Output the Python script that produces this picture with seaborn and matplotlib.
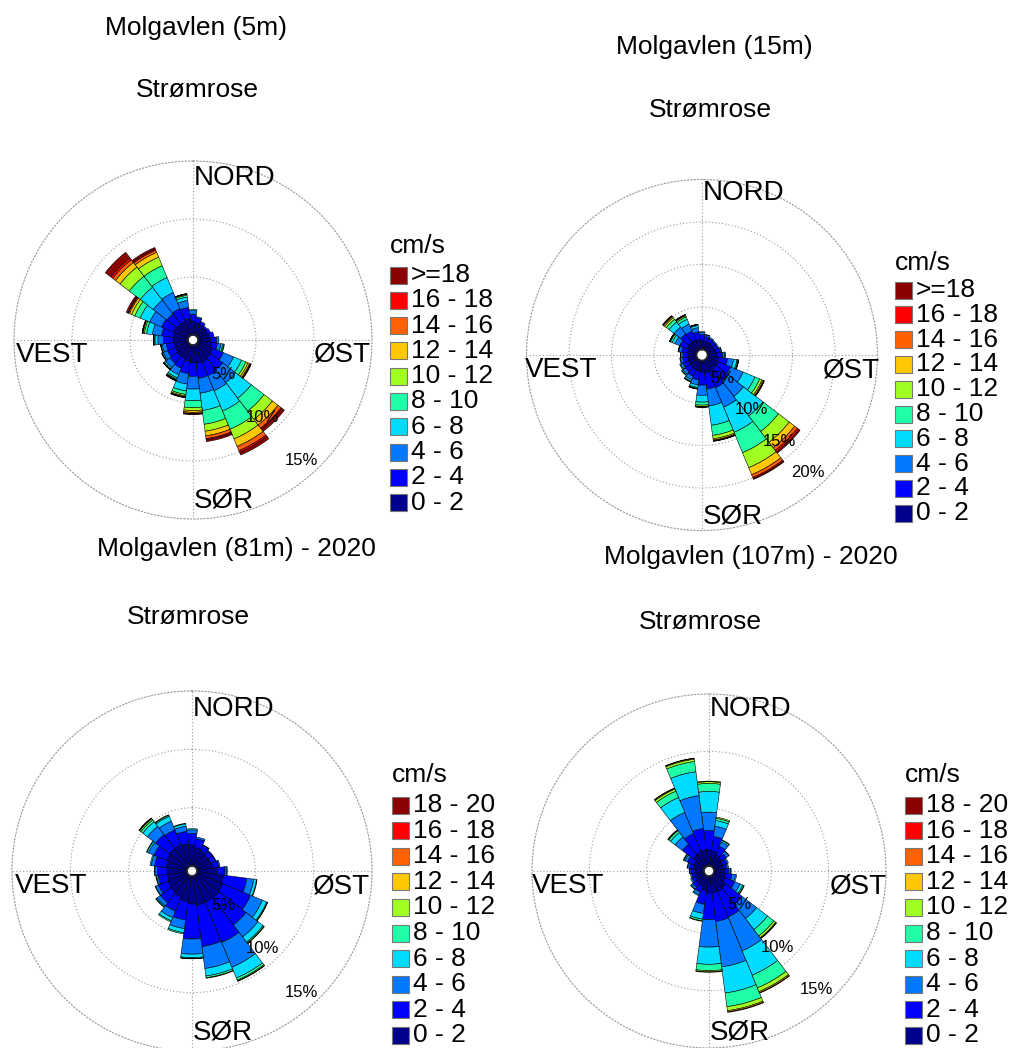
import numpy as np
import matplotlib
matplotlib.use("Agg")
import matplotlib.pyplot as plt
from matplotlib.patches import Rectangle
import seaborn as sns

sns.set_theme(style="white")
plt.rcParams["font.family"] = ["Liberation Sans", "DejaVu Sans"]
plt.rcParams["text.color"] = "black"

# ---------------- data ----------------
directions = [0, 15, 30, 45, 60, 75, 90, 105, 120, 135, 150, 165,
              180, 195, 210, 225, 240, 255, 270, 285, 300, 315, 330, 345]

labels_top = ["0 - 2", "2 - 4", "4 - 6", "6 - 8", "8 - 10", "10 - 12",
              "12 - 14", "14 - 16", "16 - 18", ">=18"]
labels_bottom = ["0 - 2", "2 - 4", "4 - 6", "6 - 8", "8 - 10", "10 - 12",
                 "12 - 14", "14 - 16", "16 - 18", "18 - 20"]

titles = ["Molgavlen (5m)", "Molgavlen (15m)",
          "Molgavlen (81m) - 2020", "Molgavlen (107m) - 2020"]
subtitle = "Strømrose"
compass = ["NORD", "ØST", "SØR", "VEST"]

# percentage of time per direction (rows) and speed class (columns, cm/s)
rose_5m = [
    [1.2, 0.6, 0.3, 0.1, 0, 0, 0, 0, 0, 0],
    [1.1, 0.4, 0.1, 0, 0, 0, 0, 0, 0, 0],
    [1.0, 0.3, 0, 0, 0, 0, 0, 0, 0, 0],
    [0.9, 0.2, 0, 0, 0, 0, 0, 0, 0, 0],
    [0.9, 0.3, 0, 0, 0, 0, 0, 0, 0, 0],
    [1.0, 0.4, 0, 0, 0, 0, 0, 0, 0, 0],
    [1.1, 0.5, 0.2, 0, 0, 0, 0, 0, 0, 0],
    [1.2, 0.5, 0.3, 0.15, 0.1, 0.05, 0, 0, 0, 0],
    [1.4, 1.0, 0.95, 0.75, 0.4, 0.2, 0.15, 0.08, 0.03, 0.04],
    [1.5, 1.3, 1.4, 1.7, 1.4, 0.9, 0.6, 0.35, 0.1, 0.25],
    [1.6, 1.3, 1.4, 1.9, 1.7, 0.9, 0.7, 0.4, 0.15, 0.25],
    [1.6, 1.3, 1.3, 1.5, 1.2, 0.6, 0.4, 0.25, 0.1, 0.15],
    [1.5, 1.2, 1.1, 1.0, 0.6, 0.25, 0.15, 0.1, 0.05, 0.05],
    [1.4, 1.1, 0.9, 0.6, 0.3, 0.12, 0.08, 0.04, 0.02, 0.04],
    [1.3, 0.9, 0.6, 0.3, 0.12, 0.06, 0.04, 0.03, 0.02, 0.03],
    [1.3, 0.8, 0.45, 0.15, 0.05, 0.03, 0.01, 0.01, 0, 0],
    [1.2, 0.75, 0.4, 0.1, 0.03, 0.02, 0, 0, 0, 0],
    [1.2, 0.7, 0.35, 0.1, 0.03, 0.02, 0, 0, 0, 0],
    [1.3, 0.8, 0.5, 0.25, 0.08, 0.04, 0.02, 0.01, 0, 0],
    [1.3, 1.0, 0.8, 0.5, 0.2, 0.1, 0.05, 0.02, 0.01, 0.02],
    [1.4, 1.1, 1.1, 0.9, 0.5, 0.3, 0.2, 0.1, 0.05, 0.15],
    [1.3, 1.1, 1.5, 1.4, 1.2, 1.0, 0.5, 0.3, 0.2, 0.6],
    [1.3, 1.2, 1.5, 1.4, 1.1, 0.8, 0.45, 0.2, 0.1, 0.15],
    [1.4, 1.0, 0.6, 0.3, 0.15, 0.08, 0.04, 0.02, 0.01, 0],
]

rose_15m = [
    [1.1, 0.65, 0.25, 0.1, 0, 0, 0, 0, 0, 0],
    [1.0, 0.55, 0.2, 0.05, 0, 0, 0, 0, 0, 0],
    [1.0, 0.45, 0.15, 0, 0, 0, 0, 0, 0, 0],
    [0.9, 0.45, 0.15, 0, 0, 0, 0, 0, 0, 0],
    [0.9, 0.45, 0.15, 0, 0, 0, 0, 0, 0, 0],
    [1.0, 0.5, 0.15, 0.05, 0, 0, 0, 0, 0, 0],
    [1.1, 0.7, 0.25, 0.05, 0, 0, 0, 0, 0, 0],
    [1.3, 1.1, 0.7, 0.4, 0.12, 0.05, 0.02, 0.01, 0, 0],
    [1.4, 1.6, 1.6, 1.5, 0.6, 0.3, 0.15, 0.08, 0.03, 0.04],
    [1.4, 1.8, 2.3, 2.9, 2.3, 1.6, 0.8, 0.4, 0.25, 0.15],
    [1.5, 2.0, 2.5, 3.2, 2.6, 1.9, 0.9, 0.35, 0.15, 0.1],
    [1.5, 1.9, 2.0, 2.3, 1.2, 0.4, 0.15, 0.08, 0.04, 0.03],
    [1.4, 1.5, 1.2, 0.8, 0.35, 0.15, 0.05, 0.03, 0.01, 0.01],
    [1.3, 1.0, 0.6, 0.3, 0.12, 0.05, 0.02, 0.01, 0, 0],
    [1.2, 0.85, 0.45, 0.2, 0.07, 0.03, 0, 0, 0, 0],
    [1.1, 0.75, 0.35, 0.15, 0.05, 0, 0, 0, 0, 0],
    [1.1, 0.7, 0.3, 0.1, 0, 0, 0, 0, 0, 0],
    [1.0, 0.65, 0.28, 0.07, 0, 0, 0, 0, 0, 0],
    [1.0, 0.6, 0.25, 0.05, 0, 0, 0, 0, 0, 0],
    [1.1, 0.7, 0.3, 0.08, 0.02, 0, 0, 0, 0, 0],
    [1.2, 1.0, 0.6, 0.35, 0.2, 0.1, 0.03, 0.01, 0.01, 0],
    [1.3, 1.2, 1.0, 0.75, 0.4, 0.25, 0.15, 0.08, 0.04, 0.03],
    [1.3, 1.1, 0.9, 0.6, 0.3, 0.15, 0.08, 0.04, 0.02, 0.01],
    [1.2, 0.9, 0.5, 0.25, 0.1, 0.03, 0.01, 0.01, 0, 0],
]

rose_81m = [
    [1.8, 1.0, 0.3, 0.1, 0, 0, 0, 0, 0, 0],
    [1.6, 0.75, 0.15, 0, 0, 0, 0, 0, 0, 0],
    [1.4, 0.55, 0.05, 0, 0, 0, 0, 0, 0, 0],
    [1.3, 0.45, 0.05, 0, 0, 0, 0, 0, 0, 0],
    [1.3, 0.45, 0.05, 0, 0, 0, 0, 0, 0, 0],
    [1.4, 0.5, 0.1, 0, 0, 0, 0, 0, 0, 0],
    [1.7, 0.7, 0.15, 0.05, 0, 0, 0, 0, 0, 0],
    [2.3, 2.0, 0.6, 0.25, 0.05, 0, 0, 0, 0, 0],
    [2.4, 2.6, 1.1, 0.4, 0.07, 0.03, 0, 0, 0, 0],
    [2.5, 2.9, 1.3, 0.55, 0.1, 0.05, 0, 0, 0, 0],
    [2.5, 3.7, 2.3, 1.0, 0.2, 0.08, 0.02, 0, 0, 0],
    [2.5, 3.6, 1.9, 0.65, 0.15, 0.05, 0, 0, 0, 0],
    [2.4, 3.0, 1.3, 0.3, 0.07, 0.03, 0, 0, 0, 0],
    [2.2, 1.6, 0.75, 0.35, 0.1, 0, 0, 0, 0, 0],
    [2.0, 1.3, 0.6, 0.3, 0.1, 0, 0, 0, 0, 0],
    [1.9, 1.1, 0.35, 0.1, 0.05, 0, 0, 0, 0, 0],
    [1.8, 0.9, 0.25, 0.05, 0, 0, 0, 0, 0, 0],
    [1.7, 0.8, 0.15, 0.05, 0, 0, 0, 0, 0, 0],
    [1.7, 0.85, 0.2, 0.05, 0, 0, 0, 0, 0, 0],
    [1.8, 1.0, 0.3, 0.1, 0, 0, 0, 0, 0, 0],
    [1.9, 1.2, 0.5, 0.15, 0.05, 0, 0, 0, 0, 0],
    [2.0, 1.5, 0.9, 0.5, 0.2, 0.12, 0.05, 0.02, 0.01, 0],
    [2.0, 1.4, 0.8, 0.45, 0.1, 0.05, 0, 0, 0, 0],
    [1.9, 1.1, 0.45, 0.2, 0.05, 0, 0, 0, 0, 0],
]

rose_107m = [
    [1.4, 1.7, 1.6, 1.8, 0.7, 0.15, 0.05, 0, 0, 0],
    [1.3, 1.3, 0.9, 0.5, 0.2, 0.1, 0, 0, 0, 0],
    [1.1, 0.8, 0.4, 0.15, 0.05, 0, 0, 0, 0, 0],
    [1.0, 0.5, 0.25, 0.05, 0, 0, 0, 0, 0, 0],
    [0.85, 0.4, 0.15, 0, 0, 0, 0, 0, 0, 0],
    [0.8, 0.35, 0.15, 0, 0, 0, 0, 0, 0, 0],
    [0.9, 0.4, 0.15, 0.05, 0, 0, 0, 0, 0, 0],
    [1.0, 0.6, 0.3, 0.1, 0, 0, 0, 0, 0, 0],
    [1.1, 0.9, 0.5, 0.25, 0.1, 0.05, 0, 0, 0, 0],
    [1.4, 1.8, 1.6, 1.2, 0.7, 0.2, 0.05, 0.05, 0, 0],
    [1.5, 2.4, 3.2, 2.3, 1.2, 0.35, 0.1, 0.05, 0, 0],
    [1.5, 2.5, 4.0, 2.3, 1.2, 0.35, 0.1, 0.05, 0, 0],
    [1.5, 2.3, 2.4, 1.5, 0.55, 0.1, 0.05, 0, 0, 0],
    [1.3, 1.2, 0.8, 0.5, 0.15, 0.05, 0, 0, 0, 0],
    [1.0, 0.55, 0.25, 0.1, 0, 0, 0, 0, 0, 0],
    [0.9, 0.45, 0.2, 0.05, 0, 0, 0, 0, 0, 0],
    [0.8, 0.35, 0.15, 0, 0, 0, 0, 0, 0, 0],
    [0.8, 0.3, 0.1, 0, 0, 0, 0, 0, 0, 0],
    [0.8, 0.35, 0.1, 0.05, 0, 0, 0, 0, 0, 0],
    [0.9, 0.4, 0.15, 0.05, 0, 0, 0, 0, 0, 0],
    [1.0, 0.6, 0.25, 0.1, 0.05, 0, 0, 0, 0, 0],
    [1.3, 1.2, 0.8, 0.5, 0.2, 0.07, 0.03, 0, 0, 0],
    [1.4, 1.7, 2.0, 1.4, 0.6, 0.2, 0.07, 0.03, 0, 0],
    [1.4, 1.9, 2.9, 2.1, 0.9, 0.2, 0.07, 0.03, 0, 0],
]

ring_values = [[5, 10, 15], [5, 10, 15, 20], [5, 10, 15], [5, 10, 15]]

# ---------------- layout / style ----------------
W, H = 1012, 1048
fig = plt.figure(figsize=(W / 100, H / 100), dpi=100)
fig.patch.set_facecolor("white")

speed_colors = sns.color_palette(["#00008c", "#0000ff", "#0078ff", "#00dcff", "#1effa8",
                                  "#a0ff20", "#ffc800", "#ff6000", "#ff0000", "#8b0000"])
grid_color = "#9a9a9a"
dot = (0, (1, 2))
FS = 19
FS_C = 20

panels = [
    dict(data=rose_5m, title=titles[0], labels=labels_top, rings=ring_values[0],
         center=(193, 340), R=179, r0=5, title_xy=(196, 28), sub_xy=(197, 90),
         leg_xy=(390, 275), leg_dy=25.3, cms_y=246),
    dict(data=rose_15m, title=titles[1], labels=labels_top, rings=ring_values[1],
         center=(702, 355), R=175.5, r0=5.5, title_xy=(714, 47), sub_xy=(710, 110),
         leg_xy=(895, 290), leg_dy=24.8, cms_y=263),
    dict(data=rose_81m, title=titles[2], labels=labels_bottom, rings=ring_values[2],
         center=(192, 871), R=180, r0=5, title_xy=(236, 549), sub_xy=(188, 617),
         leg_xy=(392, 805), leg_dy=25.6, cms_y=775),
    dict(data=rose_107m, title=titles[3], labels=labels_bottom, rings=ring_values[3],
         center=(709, 871), R=177, r0=5, title_xy=(751, 557), sub_xy=(700, 622),
         leg_xy=(905, 805), leg_dy=25.6, cms_y=775),
]


def fx(x):
    return x / W


def fy(y):
    return 1 - y / H


theta = np.deg2rad(directions)
width = np.deg2rad(15)

for p in panels:
    cx, cy = p["center"]
    R, r0 = p["R"], p["r0"]
    rmax = p["rings"][-1]
    k = (R - r0) / rmax  # px per percent
    ax = fig.add_axes([fx(cx - R), fy(cy + R), 2 * R / W, 2 * R / H], projection="polar")
    ax.set_theta_zero_location("N")
    ax.set_theta_direction(-1)
    ax.set_facecolor("white")

    arr = np.array(p["data"], dtype=float)
    bottoms = np.zeros(len(directions))
    for j in range(arr.shape[1]):
        h = arr[:, j]
        m = h > 0
        if m.any():
            ax.bar(theta[m], h[m], width=width, bottom=bottoms[m],
                   color=speed_colors[j], edgecolor="black", linewidth=0.4,
                   align="center", zorder=2)
        bottoms = bottoms + h

    ax.set_ylim(0, rmax)
    ax.set_rorigin(-r0 / k)
    ax.set_yticks(p["rings"][:-1])
    ax.set_yticklabels([])
    ax.set_xticks(np.deg2rad([0, 90, 180, 270]))
    ax.set_xticklabels([])
    ax.grid(True, color=grid_color, linestyle=dot, linewidth=0.8)
    ax.set_axisbelow(True)
    ax.spines["polar"].set_linestyle(dot)
    ax.spines["polar"].set_color(grid_color)
    ax.spines["polar"].set_linewidth(0.8)

    for v in p["rings"]:
        ax.text(np.deg2rad(138), v - 17 / k, f"{v}%", ha="center", va="center",
                fontsize=12, color="black", zorder=5)

    # compass labels
    fig.text(fx(cx + 1), fy(cy - 162), compass[0], ha="left", va="center", fontsize=FS_C)
    fig.text(fx(cx + 1), fy(cy + 161), compass[2], ha="left", va="center", fontsize=FS_C)
    fig.text(fx(cx - 177), fy(cy + 15), compass[3], ha="left", va="center", fontsize=FS_C)
    fig.text(fx(cx + 178), fy(cy + 15), compass[1], ha="right", va="center", fontsize=FS_C)

    # titles
    fig.text(fx(p["title_xy"][0]), fy(p["title_xy"][1]), p["title"],
             ha="center", va="center", fontsize=FS)
    fig.text(fx(p["sub_xy"][0]), fy(p["sub_xy"][1]), subtitle,
             ha="center", va="center", fontsize=FS)

    # legend (top row = highest class)
    lx, ly = p["leg_xy"]
    fig.text(fx(lx), fy(p["cms_y"]), "cm/s", ha="left", va="center", fontsize=FS)
    for i in range(10):
        cls = 9 - i
        yc = ly + i * p["leg_dy"]
        fig.add_artist(Rectangle((fx(lx), fy(yc + 8.5)), 17 / W, 17 / H,
                                 transform=fig.transFigure, facecolor=speed_colors[cls],
                                 edgecolor="#777777", linewidth=0.8))
        fig.text(fx(lx + 21), fy(yc), p["labels"][cls], ha="left", va="center", fontsize=FS)

fig.savefig("out.png", dpi=100, facecolor="white")
